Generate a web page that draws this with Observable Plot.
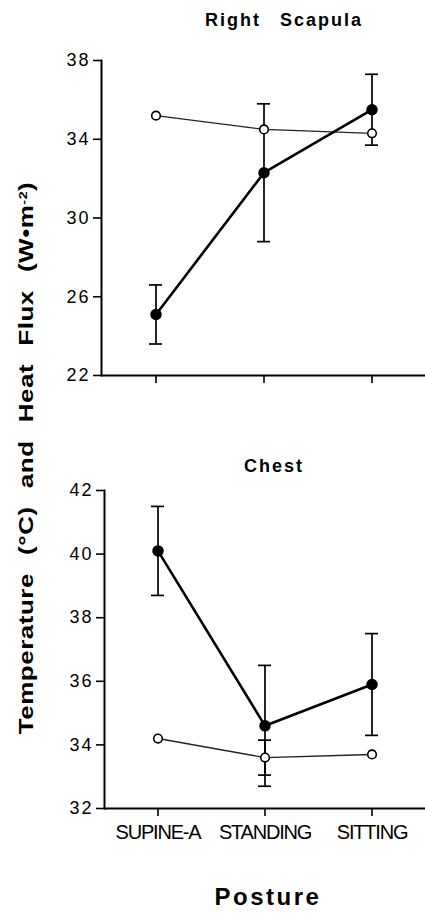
<!DOCTYPE html>
<html>
<head>
<meta charset="utf-8">
<script src="https://cdn.jsdelivr.net/npm/d3@7"></script>
<script src="https://cdn.jsdelivr.net/npm/@observablehq/plot@0.6"></script>
<style>
  body { margin: 0; background: #fff; }
  #wrap { position: relative; width: 425px; height: 918px; font-family: "Liberation Sans", Arial, sans-serif; color: #000; }
  #wrap > svg, #wrap > div { position: absolute; }
  .title { font-weight: bold; font-size: 18px; letter-spacing: 2px; word-spacing: 12px; white-space: nowrap; transform: translateX(-50%); }
  g[aria-label="y-axis tick label"] text { font-size: 18px; letter-spacing: 2px; }
  g[aria-label="x-axis tick label"] text { font-size: 20px; letter-spacing: -1.2px; }
</style>
</head>
<body>
<div id="wrap"></div>
<script>
// ---- data ----
const categories = ["SUPINE-A", "STANDING", "SITTING"];
const panelTitles = ["Right  Scapula", "Chest"];
const xLabel = "Posture";
const yLabelParts = ["Temperature (°C) and Heat Flux (W•m", "-2", ")"];

const scapulaFilled = [25.1, 32.3, 35.5];
const scapulaFilledErr = [1.5, 3.5, 1.8];
const scapulaOpen = [35.2, 34.5, 34.3];
const scapulaOpenErr = [null, null, null];
const scapulaTicks = [22, 26, 30, 34, 38];

const chestFilled = [40.1, 34.6, 35.9];
const chestFilledErr = [1.4, 1.9, 1.6];
const chestOpen = [34.2, 33.6, 33.7];
const chestOpenErr = [null, 0.55, null];
const chestTicks = [32, 34, 36, 38, 40, 42];

const wrap = document.getElementById("wrap");
const FONT = "'Liberation Sans', Arial, sans-serif";

function rows(vals, errs) {
  return categories.map((c, i) => ({cat: c, v: vals[i], e: errs[i]}));
}

function panel({filled, filledErr, open, openErr, ticks, marginLeft, marginTop, height, marginBottom, showLabels}) {
  const F = rows(filled, filledErr);
  const O = rows(open, openErr);
  const E = F.concat(O).filter(d => d.e != null);
  const lo = ticks[0], hi = ticks[ticks.length - 1];
  return Plot.plot({
    width: 425, height, marginLeft, marginRight: 0, marginTop, marginBottom,
    style: {fontFamily: FONT, background: "transparent", overflow: "visible"},
    x: {type: "band", domain: categories, paddingInner: 0.88, paddingOuter: 0.44, label: null},
    y: {domain: [lo, hi], label: null},
    marks: [
      Plot.frame({anchor: "left", strokeWidth: 2}),
      Plot.ruleY([lo], {strokeWidth: 2}),
      Plot.axisY(ticks, {tickSize: 8, tickPadding: 3, label: null, strokeWidth: 1.6}),
      Plot.axisX({tickSize: 8, tickPadding: 8, label: null, strokeWidth: 1.6,
                  tickFormat: showLabels ? (d => d) : (() => "")}),
      Plot.line(O, {x: "cat", y: "v", stroke: "#222", strokeWidth: 1.4}),
      Plot.line(F, {x: "cat", y: "v", stroke: "#000", strokeWidth: 2.6}),
      Plot.ruleX(E, {x: "cat", y1: d => d.v - d.e, y2: d => d.v + d.e, strokeWidth: 1.7}),
      Plot.tickY(E, {x: "cat", y: d => d.v + d.e, strokeWidth: 1.7}),
      Plot.tickY(E, {x: "cat", y: d => d.v - d.e, strokeWidth: 1.7}),
      Plot.dot(F, {x: "cat", y: "v", r: 5, fill: "#000", stroke: "#000"}),
      Plot.dot(O, {x: "cat", y: "v", r: 4.3, fill: "#fff", stroke: "#000", strokeWidth: 1.6})
    ]
  });
}

const topPanel = panel({filled: scapulaFilled, filledErr: scapulaFilledErr, open: scapulaOpen, openErr: scapulaOpenErr,
  ticks: scapulaTicks, marginLeft: 101, marginTop: 60, height: 390, marginBottom: 15, showLabels: false});
topPanel.style.left = "0px"; topPanel.style.top = "0px";
wrap.appendChild(topPanel);

const botPanel = panel({filled: chestFilled, filledErr: chestFilledErr, open: chestOpen, openErr: chestOpenErr,
  ticks: chestTicks, marginLeft: 104, marginTop: 70, height: 433, marginBottom: 45, showLabels: true});
botPanel.style.left = "0px"; botPanel.style.top = "420px";
wrap.appendChild(botPanel);

function addTitle(text, cx, yTop, cls, extra) {
  const d = document.createElement("div");
  d.className = cls;
  d.textContent = text;
  d.style.left = cx + "px";
  d.style.top = yTop + "px";
  Object.assign(d.style, extra || {});
  wrap.appendChild(d);
  return d;
}
addTitle(panelTitles[0], 284, 10, "title");
addTitle(panelTitles[1], 274, 456, "title");
addTitle(xLabel, 268, 883, "title", {fontSize: "24px", letterSpacing: "2.5px"});

// rotated y label
const ns = "http://www.w3.org/2000/svg";
const ys = document.createElementNS(ns, "svg");
ys.setAttribute("width", 60); ys.setAttribute("height", 918);
ys.style.left = "0px"; ys.style.top = "0px";
const t = document.createElementNS(ns, "text");
t.setAttribute("transform", "translate(33,458) rotate(-90) scale(1.3,1)");
t.setAttribute("text-anchor", "middle");
t.setAttribute("font-family", FONT);
t.setAttribute("font-weight", "bold");
t.setAttribute("font-size", 20);
t.setAttribute("word-spacing", 8);
t.setAttribute("letter-spacing", 0.4);
const s1 = document.createElementNS(ns, "tspan"); s1.textContent = yLabelParts[0];
const s2 = document.createElementNS(ns, "tspan"); s2.textContent = yLabelParts[1];
s2.setAttribute("font-size", 11); s2.setAttribute("baseline-shift", "super");
const s3 = document.createElementNS(ns, "tspan"); s3.textContent = yLabelParts[2];
t.append(s1, s2, s3);
ys.appendChild(t);
wrap.appendChild(ys);
</script>
</body>
</html>
